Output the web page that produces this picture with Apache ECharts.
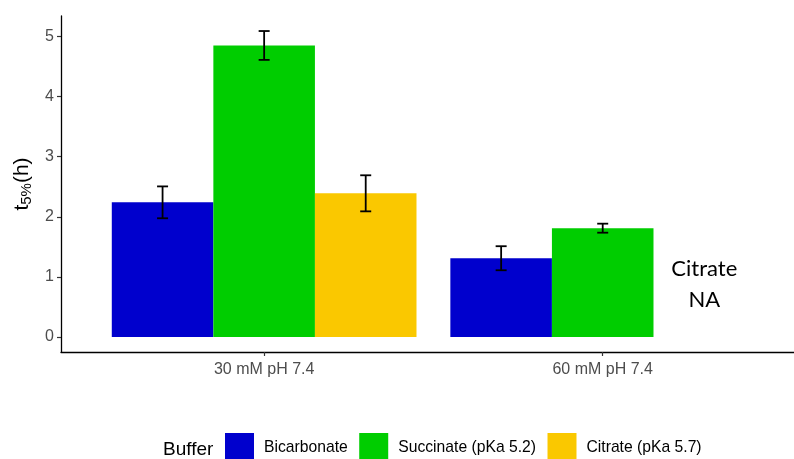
<!DOCTYPE html>
<html>
<head>
<meta charset="utf-8">
<script src="https://cdn.jsdelivr.net/npm/echarts@6/dist/echarts.min.js"></script>
<style>
html,body{margin:0;padding:0;background:#fff;}
#c{width:794px;height:459px;}
</style>
</head>
<body>
<div id="c"></div>
<script>
const categories = ['30 mM pH 7.4', '60 mM pH 7.4'];
const buffers = ['Bicarbonate', 'Succinate (pKa 5.2)', 'Citrate (pKa 5.7)'];
const bicarbonateMean = [2.24, 1.31];
const bicarbonateSd = [0.265, 0.20];
const succinateMean = [4.85, 1.81];
const succinateSd = [0.24, 0.075];
const citrateMean = [2.39, null];
const citrateSd = [0.30, null];
const yTicks = [0, 1, 2, 3, 4, 5];

const colors = ['#0000CD', '#00CD00', '#FAC800'];
const dodge = [-0.3, 0, 0.3];
const barW = 0.3;

function toData(mean, sd) {
  const out = [];
  mean.forEach(function (m, i) {
    if (m !== null) out.push([i + 1, m, sd[i]]);
  });
  return out;
}

function makeRender(offset) {
  return function (params, api) {
    const x = api.value(0) + offset;
    const y = api.value(1);
    const sd = api.value(2);
    const p0 = api.coord([x - barW / 2, y]);
    const p1 = api.coord([x + barW / 2, 0]);
    const top = api.coord([x, y + sd]);
    const bot = api.coord([x, y - sd]);
    const cap = 5.5;
    const ls = { stroke: '#000', lineWidth: 1.8 };
    return {
      type: 'group',
      children: [
        { type: 'rect', shape: { x: p0[0], y: p0[1], width: p1[0] - p0[0], height: p1[1] - p0[1] }, style: { fill: api.visual('color') } },
        { type: 'line', shape: { x1: top[0], y1: top[1], x2: bot[0], y2: bot[1] }, style: ls },
        { type: 'line', shape: { x1: top[0] - cap, y1: top[1], x2: top[0] + cap, y2: top[1] }, style: ls },
        { type: 'line', shape: { x1: bot[0] - cap, y1: bot[1], x2: bot[0] + cap, y2: bot[1] }, style: ls }
      ]
    };
  };
}

const means = [bicarbonateMean, succinateMean, citrateMean];
const sds = [bicarbonateSd, succinateSd, citrateSd];

const series = buffers.map(function (name, k) {
  return {
    name: name,
    type: 'custom',
    renderItem: makeRender(dodge[k]),
    itemStyle: { color: colors[k] },
    encode: { x: 0, y: 1 },
    data: toData(means[k], sds[k]),
    z: 2
  };
});

series.push({
  type: 'custom',
  name: 'note',
  silent: true,
  data: [[2 + dodge[2], 0.87]],
  encode: { x: 0, y: 1 },
  renderItem: function (params, api) {
    const p = api.coord([api.value(0), api.value(1)]);
    return {
      type: 'text',
      x: p[0],
      y: p[1],
      style: {
        text: 'Citrate\nNA',
        fontFamily: 'Lato, "Open Sans", sans-serif',
        fontSize: 22,
        lineHeight: 31,
        fill: '#000',
        align: 'center',
        verticalAlign: 'middle'
      }
    };
  }
});

const chart = echarts.init(document.getElementById('c'), null, { renderer: 'canvas' });
chart.setOption({
  animation: false,
  backgroundColor: '#fff',
  textStyle: { fontFamily: '"Liberation Sans", Arial, sans-serif' },
  grid: { left: 61, right: 0, top: 16, bottom: 107 },
  xAxis: {
    type: 'value',
    min: 0.4,
    max: 2.565,
    splitLine: { show: false },
    axisLine: { show: true, onZero: false, lineStyle: { color: '#000', width: 1.3 } },
    axisTick: { show: true, customValues: [1, 2], length: 4, lineStyle: { color: '#333', width: 1.2 } },
    axisLabel: {
      customValues: [1, 2],
      formatter: function (v) { return categories[Math.round(v) - 1]; },
      color: '#4D4D4D',
      fontSize: 16,
      margin: 10
    }
  },
  yAxis: {
    type: 'value',
    min: -0.25,
    max: 5.34,
    splitLine: { show: false },
    axisLine: { show: true, onZero: false, lineStyle: { color: '#000', width: 1.3 } },
    axisTick: { show: true, customValues: yTicks, length: 4, lineStyle: { color: '#333', width: 1.2 } },
    axisLabel: {
      customValues: yTicks,
      color: '#4D4D4D',
      fontSize: 16,
      margin: 7
    },
    name: '{t|t}{s|5%}{t|(h)}',
    nameLocation: 'middle',
    nameRotate: 90,
    nameGap: 21,
    nameTextStyle: {
      rich: {
        t: { fontSize: 21, color: '#000', fontFamily: '"Liberation Sans", Arial, sans-serif' },
        s: { fontSize: 15, color: '#000', verticalAlign: 'bottom', padding: [9, 0, 0, 0], fontFamily: '"Liberation Sans", Arial, sans-serif' }
      }
    }
  },
  legend: {
    data: buffers,
    left: 225,
    top: 433,
    padding: 0,
    orient: 'horizontal',
    itemWidth: 29,
    itemHeight: 29,
    itemGap: 11.5,
    icon: 'rect',
    textStyle: { fontSize: 15.7, color: '#000', padding: [5, 0, 0, 5] }
  },
  graphic: [{
    type: 'text',
    left: 163,
    top: 440,
    style: { text: 'Buffer', fontSize: 19, fill: '#000', fontFamily: '"Liberation Sans", Arial, sans-serif' }
  }],
  series: series
});
</script>
</body>
</html>
